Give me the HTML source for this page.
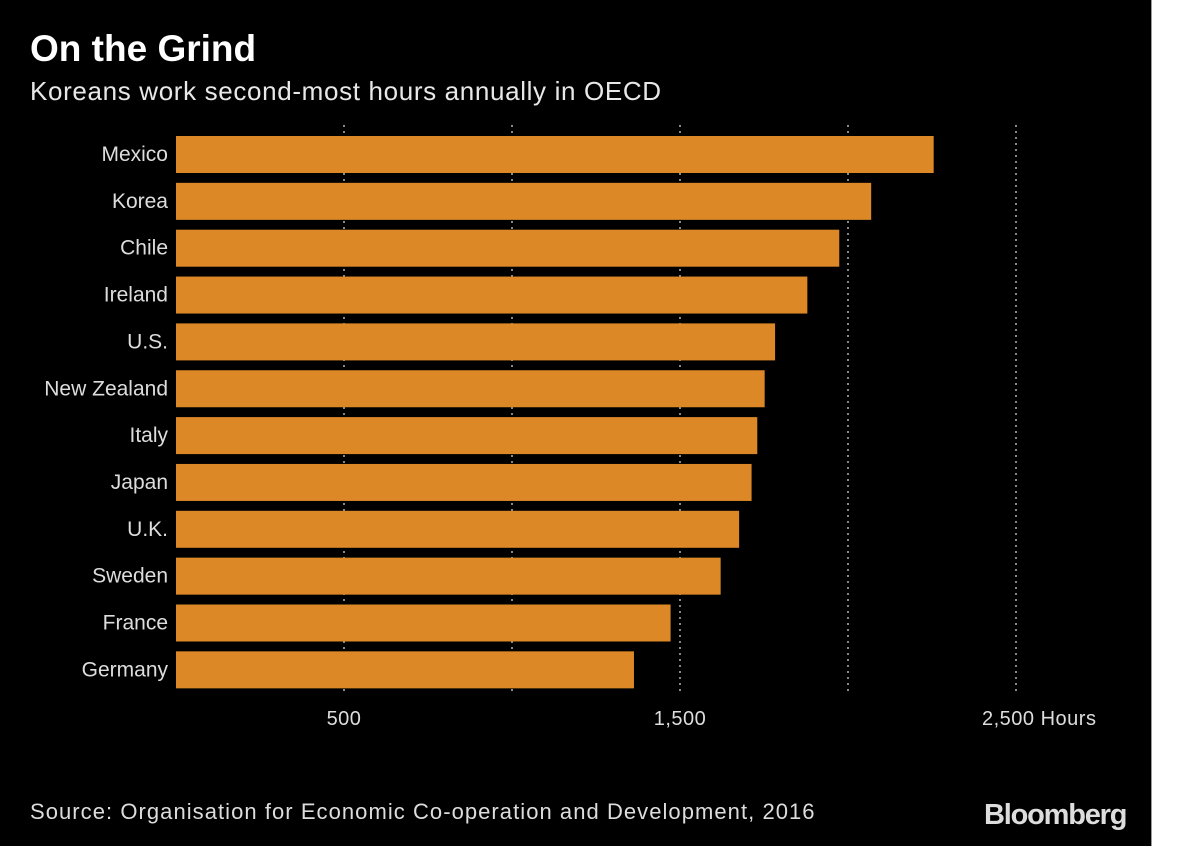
<!DOCTYPE html>
<html><head><meta charset="utf-8"><style>
body{margin:0;width:1200px;height:846px;background:#fff;overflow:hidden}
#bg{position:absolute;left:0;top:0;width:1151px;height:846px;background:#000;border-right:1px solid #999}
.t{position:absolute;color:#fff;font-family:"Liberation Sans",sans-serif;white-space:nowrap}
</style></head><body>
<div id="bg"></div>
<div class="t" style="left:30px;top:28px;font-size:37px;font-weight:bold">On the Grind</div>
<div class="t" style="left:30px;top:76px;font-size:26px;color:#e8e8e8;letter-spacing:0.65px">Koreans work second-most hours annually in OECD</div>
<svg id="c" width="1200" height="846" style="position:absolute;left:0;top:0"></svg>
<div class="t" style="left:30px;top:799px;font-size:22px;color:#ddd;letter-spacing:1.05px">Source: Organisation for Economic Co-operation and Development, 2016</div>
<div class="t" style="left:984px;top:799px;font-size:29px;font-weight:bold;color:#ddd;letter-spacing:-1.2px">Bloomberg</div>
<script>
const categories=["Mexico","Korea","Chile","Ireland","U.S.","New Zealand","Italy","Japan","U.K.","Sweden","France","Germany"];
const values=[2255,2069,1974,1879,1783,1752,1730,1713,1676,1621,1472,1363];
const gridValues=[500,1000,1500,2000,2500];
const tickLabels=["500","","1,500","","2,500 Hours"];
const svg=document.getElementById('c');const NS="http://www.w3.org/2000/svg";
const x=v=>176+v*0.336;
const y=i=>136+i*46.85;
function mk(t,a){const e=document.createElementNS(NS,t);for(const k in a)e.setAttribute(k,a[k]);svg.appendChild(e);return e;}
gridValues.forEach((g,i)=>{
 const l=mk('line',{x1:x(g),x2:x(g),y1:125,y2:695,stroke:'#888','stroke-width':2,'stroke-dasharray':'2,4'});
 
 
 if(tickLabels[i]){const t=mk('text',{x:x(g),y:725,fill:'#ddd','font-size':20,'font-family':'Liberation Sans, sans-serif','text-anchor':i==4?'start':'middle','letter-spacing':'0.5'});
 if(i==4)t.setAttribute('x',x(g)-34);
 t.textContent=tickLabels[i];
 
 }
});
categories.forEach((c,i)=>{
 const r=mk('rect',{x:x(0),y:y(i),width:x(values[i])-x(0),height:37,fill:'#dc8826'});
 
 
 const t=mk('text',{x:168,y:y(i)+25,fill:'#ddd','font-size':21,'font-family':'Liberation Sans, sans-serif','text-anchor':'end'});
 t.textContent=c;
 
 
});
</script>
</body></html>
